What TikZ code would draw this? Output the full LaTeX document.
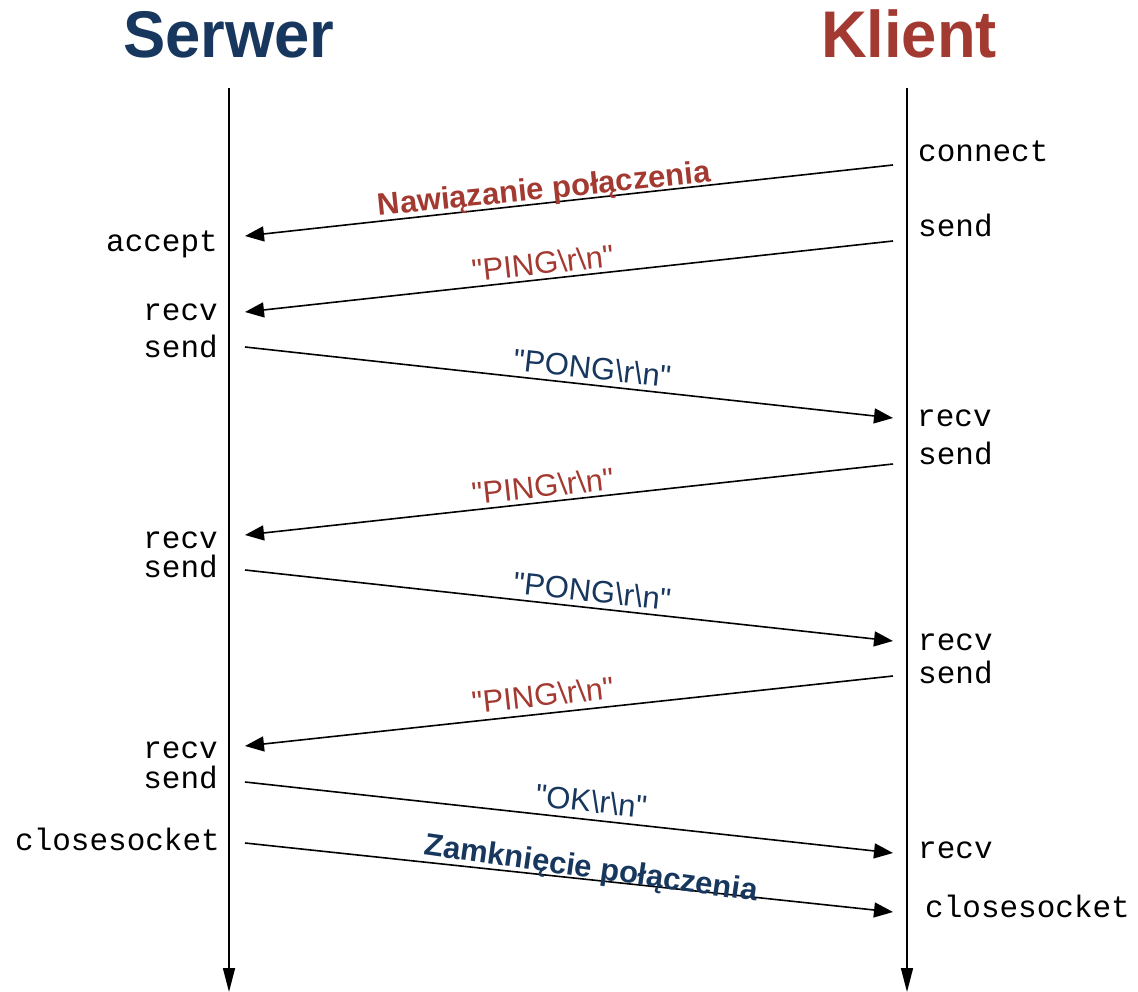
\documentclass[tikz,border=0pt]{standalone}
\usepackage{fontspec}
\setmainfont{Liberation Sans}[Ligatures=TeXOff]
\newfontfamily\monof{Liberation Mono}[Ligatures=TeXOff]
\usetikzlibrary{arrows.meta}
\definecolor{srvblue}{HTML}{17375E}
\definecolor{clired}{HTML}{A33A32}
\newcommand{\qq}{\symbol{34}}
\newcommand{\bs}{\symbol{92}}
\begin{document}
\begin{tikzpicture}[x=1pt,y=-1pt,
  life/.style={line width=1.6pt,-{Triangle[length=24pt,width=12pt]}},
  msg/.style={line width=1.6pt,-{Triangle[length=19pt,width=15pt]}},
  fn/.style={font=\monof\fontsize{31}{31}\selectfont,inner sep=0pt},
  fnl/.style={fn,anchor=base east},
  fnr/.style={fn,anchor=base west},
  title/.style={font=\bfseries\fontsize{66}{66}\selectfont,anchor=base,inner sep=0pt,xscale=0.96},
  lbl/.style={font=\fontsize{31}{31}\selectfont,anchor=base,inner sep=0pt},
  lblb/.style={font=\bfseries\fontsize{31}{31}\selectfont,anchor=base,inner sep=0pt}]
\useasboundingbox (0,0) rectangle (1138,992);
% titles
\node[title,text=srvblue] (ts) at (229,58) {Serwer};
\node[title,text=clired] (tk) at (909,58) {Klient};
% lifelines
\coordinate (s0) at (229,88); \coordinate (s1) at (229,992);
\coordinate (k0) at (907,88); \coordinate (k1) at (907,992);
\draw[life] (s0) -- (s1);
\draw[life] (k0) -- (k1);
% message endpoints
\coordinate (a1s) at (893,165); \coordinate (a1e) at (245,236);
\coordinate (a2s) at (893,241); \coordinate (a2e) at (245,312);
\coordinate (a3s) at (245,347); \coordinate (a3e) at (893,418);
\coordinate (a4s) at (893,464); \coordinate (a4e) at (245,535);
\coordinate (a5s) at (245,570); \coordinate (a5e) at (893,641);
\coordinate (a6s) at (893,676); \coordinate (a6e) at (245,746);
\coordinate (a7s) at (245,782); \coordinate (a7e) at (893,853);
\coordinate (a8s) at (245,843); \coordinate (a8e) at (893,912);
\draw[msg] (a1s) -- (a1e);
\draw[msg] (a2s) -- (a2e);
\draw[msg] (a3s) -- (a3e);
\draw[msg] (a4s) -- (a4e);
\draw[msg] (a5s) -- (a5e);
\draw[msg] (a6s) -- (a6e);
\draw[msg] (a7s) -- (a7e);
\draw[msg] (a8s) -- (a8e);
% message labels
\node[lblb,text=clired,rotate=5.8] (l1) at (545,199) {Nawiązanie połączenia};
\node[lbl,text=clired,rotate=6.25] (l2) at (544,274) {\qq PING\bs r\bs n\qq};
\node[lbl,text=srvblue,rotate=-6.25] (l3) at (591,379) {\qq PONG\bs r\bs n\qq};
\node[lbl,text=clired,rotate=6.25] (l4) at (544,497) {\qq PING\bs r\bs n\qq};
\node[lbl,text=srvblue,rotate=-6.25] (l5) at (591,602) {\qq PONG\bs r\bs n\qq};
\node[lbl,text=clired,rotate=6.25] (l6) at (544,706) {\qq PING\bs r\bs n\qq};
\node[lbl,text=srvblue,rotate=-6.25] (l7) at (590,812) {\qq OK\bs r\bs n\qq};
\node[lblb,text=srvblue,rotate=-8] (l8) at (590,878) {Zamknięcie połączenia};
% server calls
\node[fnl] (s_acc) at (218,252) {accept};
\node[fnl] (s_r1) at (218,321) {recv};
\node[fnl] (s_s1) at (218,358) {send};
\node[fnl] (s_r2) at (218,548) {recv};
\node[fnl] (s_s2) at (218,577) {send};
\node[fnl] (s_r3) at (218,758) {recv};
\node[fnl] (s_s3) at (218,788) {send};
\node[fnl] (s_cl) at (220,850) {closesocket};
% client calls
\node[fnr] (k_con) at (918,162) {connect};
\node[fnr] (k_s1) at (918,237) {send};
\node[fnr] (k_r1) at (917,426) {recv};
\node[fnr] (k_s2) at (918,464) {send};
\node[fnr] (k_r2) at (918,650) {recv};
\node[fnr] (k_s3) at (918,683) {send};
\node[fnr] (k_r3) at (918,858) {recv};
\node[fnr] (k_cl) at (925,917) {closesocket};
\end{tikzpicture}
\end{document}
